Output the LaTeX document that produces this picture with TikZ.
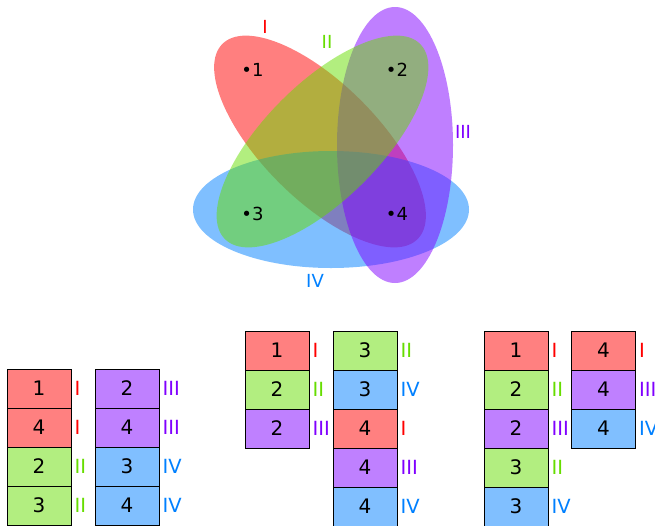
\documentclass[tikz,border=0pt]{standalone}
\usepackage{fontspec}
\setmainfont{DejaVu Sans}
\definecolor{tR}{RGB}{255,0,0}
\definecolor{tG}{RGB}{102,221,0}
\definecolor{tP}{RGB}{128,0,255}
\definecolor{tB}{RGB}{0,128,255}
\colorlet{fR}{tR!50!white}
\colorlet{fG}{tG!50!white}
\colorlet{fP}{tP!50!white}
\colorlet{fB}{tB!50!white}
\tikzset{
  venn/.style={fill opacity=0.5, draw=none},
  pt/.style={inner sep=0pt, font=\fontsize{18}{18}\selectfont},
  setlab/.style={inner sep=0pt, font=\fontsize{18}{18}\selectfont},
  cell/.style={draw=black, line width=0.8pt, minimum width=64pt, minimum height=39pt, inner sep=0pt, font=\fontsize{20}{20}\selectfont},
  lab/.style={anchor=west, xshift=3pt, inner sep=0pt, font=\fontsize{19.5}{19.5}\selectfont}
}
\begin{document}
\begin{tikzpicture}[x=1pt,y=-1pt]
\useasboundingbox (0,0) rectangle (655,525);
% Venn ellipses (order: red, blue, purple, green)
\fill[venn, fill=tR, rotate around={-45:(320,141.5)}] (320,141.5) ellipse [x radius=138, y radius=58];
\fill[venn, fill=tB] (331,209.5) ellipse [x radius=138, y radius=58.5];
\fill[venn, fill=tP] (395,145) ellipse [x radius=58, y radius=138];
\fill[venn, fill=tG, rotate around={45:(322.5,141.5)}] (322.5,141.5) ellipse [x radius=138, y radius=58];
% points
\node[pt] (p1) at (252.5,70) {•1};
\node[pt] (p2) at (397,70) {•2};
\node[pt] (p3) at (252.5,214) {•3};
\node[pt] (p4) at (397,214) {•4};
% set labels
\node[setlab, text=tR] (lI) at (265,27) {I};
\node[setlab, text=tG] (lII) at (327,42) {II};
\node[setlab, text=tP] (lIII) at (463,132) {III};
\node[setlab, text=tB] (lIV) at (315,281) {IV};
% group 1
\foreach \n/\c/\l [count=\i] in {1/R/I, 4/R/I, 2/G/II, 3/G/II} {
  \node[cell, fill=f\c] (ga\i) at (39, {369+19.5+(\i-1)*39}) {\n};
  \node[lab, text=t\c] (ga\i l) at (ga\i.east) {\l};
}
\foreach \n/\c/\l [count=\i] in {2/P/III, 4/P/III, 3/B/IV, 4/B/IV} {
  \node[cell, fill=f\c] (gb\i) at (127, {369+19.5+(\i-1)*39}) {\n};
  \node[lab, text=t\c] (gb\i l) at (gb\i.east) {\l};
}
% group 2
\foreach \n/\c/\l [count=\i] in {1/R/I, 2/G/II, 2/P/III} {
  \node[cell, fill=f\c] (gc\i) at (277, {331+19.5+(\i-1)*39}) {\n};
  \node[lab, text=t\c] (gc\i l) at (gc\i.east) {\l};
}
\foreach \n/\c/\l [count=\i] in {3/G/II, 3/B/IV, 4/R/I, 4/P/III, 4/B/IV} {
  \node[cell, fill=f\c] (gd\i) at (365, {331+19.5+(\i-1)*39}) {\n};
  \node[lab, text=t\c] (gd\i l) at (gd\i.east) {\l};
}
% group 3
\foreach \n/\c/\l [count=\i] in {1/R/I, 2/G/II, 2/P/III, 3/G/II, 3/B/IV} {
  \node[cell, fill=f\c] (ge\i) at (516, {331+19.5+(\i-1)*39}) {\n};
  \node[lab, text=t\c] (ge\i l) at (ge\i.east) {\l};
}
\foreach \n/\c/\l [count=\i] in {4/R/I, 4/P/III, 4/B/IV} {
  \node[cell, fill=f\c] (gf\i) at (603.5, {331+19.5+(\i-1)*39}) {\n};
  \node[lab, text=t\c] (gf\i l) at (gf\i.east) {\l};
}
\end{tikzpicture}
\end{document}
